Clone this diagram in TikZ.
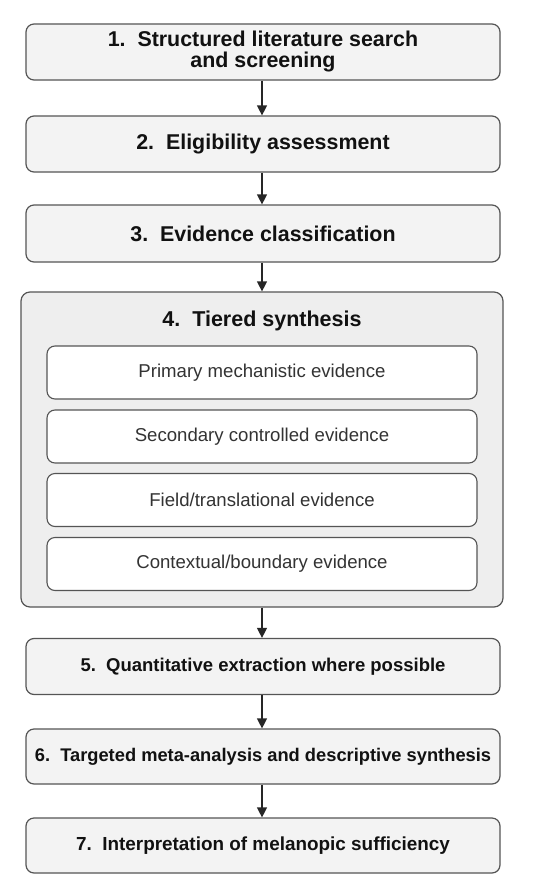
\documentclass[tikz,border=0pt]{standalone}
\usepackage{fontspec}
\setmainfont{Liberation Sans}
\usetikzlibrary{arrows.meta}
\definecolor{boxfill}{HTML}{F3F3F3}
\definecolor{outerfill}{HTML}{EEEEEE}
\definecolor{edge}{HTML}{555555}
\definecolor{txt}{HTML}{111111}
\definecolor{subtxt}{HTML}{333333}
\tikzset{
  stepbox/.style={draw=edge, line width=1.2pt, fill=boxfill, rounded corners=8pt,
    minimum width=474pt, inner sep=0pt, align=center, text=txt,
    font=\fontsize{21.4}{21}\selectfont\bfseries},
  outerbox/.style={draw=edge, line width=1.2pt, fill=outerfill, rounded corners=9pt,
    minimum width=482pt, minimum height=315pt, inner sep=0pt},
  tierbox/.style={draw=edge, line width=1.1pt, fill=white, rounded corners=8pt,
    minimum width=430pt, minimum height=53pt, inner sep=0pt, text=subtxt,
    font=\fontsize{18.6}{20}\selectfont},
  flow/.style={draw=black!85, line width=1.2pt, -{Triangle[length=10pt,width=10pt]}}
}
\begin{document}
\begin{tikzpicture}[x=1pt,y=-1pt]
\useasboundingbox (0,0) rectangle (537,891);
\node[stepbox, minimum height=56pt] (s1) at (263,52) {1.\ \ Structured literature search\\ and screening};
\node[stepbox, minimum height=56pt] (s2) at (263,144) {2.\ \ Eligibility assessment};
\node[stepbox, minimum height=57pt] (s3) at (263,233.5) {3.\ \ Evidence classification};
\node[outerbox] (s4) at (262,449.5) {};
\node[text=txt, font=\fontsize{21.5}{22}\selectfont\bfseries] (t4) at (262,321) {4.\ \ Tiered synthesis};
\node[tierbox] (ta) at (262,372.5) {Primary mechanistic evidence};
\node[tierbox] (tb) at (262,436.5) {Secondary controlled evidence};
\node[tierbox] (tc) at (262,500) {Field/translational evidence};
\node[tierbox] (td) at (262,564) {Contextual/boundary evidence};
\node[stepbox, minimum height=56pt, font=\fontsize{18.5}{19}\selectfont\bfseries] (s5) at (263,666.5) {5.\ \ Quantitative extraction where possible};
\node[stepbox, minimum height=55pt, font=\fontsize{18.3}{19}\selectfont\bfseries] (s6) at (263,756.5) {6.\ \ Targeted meta-analysis and descriptive synthesis};
\node[stepbox, minimum height=55pt, font=\fontsize{18.9}{19}\selectfont\bfseries] (s7) at (263,845.5) {7.\ \ Interpretation of melanopic sufficiency};
\draw[flow] (s1.south -| 262,0) -- (s2.north -| 262,0);
\draw[flow] (s2.south -| 262,0) -- (s3.north -| 262,0);
\draw[flow] (s3.south -| 262,0) -- (s4.north -| 262,0);
\draw[flow] (s4.south -| 262,0) -- (s5.north -| 262,0);
\draw[flow] (s5.south -| 262,0) -- (s6.north -| 262,0);
\draw[flow] (s6.south -| 262,0) -- (s7.north -| 262,0);
\end{tikzpicture}
\end{document}
